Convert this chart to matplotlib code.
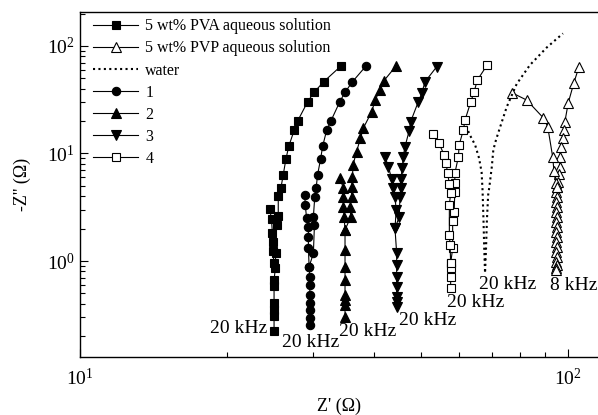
import matplotlib
matplotlib.use('Agg')
import matplotlib.pyplot as plt

plt.rcParams['font.family'] = ['Liberation Serif', 'DejaVu Serif']
plt.rcParams['mathtext.fontset'] = 'stix'

# ---- data: Z' (ohm) and -Z'' (ohm) ----
# 5 wt% PVA aqueous solution (filled squares)
pva_x = [34.3, 31.6, 30.2, 29.3, 27.95, 27.5, 26.8, 26.45, 26.1, 25.83, 25.5, 25.5, 25.3, 25.2,
         25.15, 25.0, 25.0, 25.0, 25.0, 25.0, 25.0]
pva_y = [65.2, 46.5, 37.1, 30.3, 20.1, 16.5, 11.7, 8.95, 6.31, 4.81, 4.02, 2.62, 2.16, 1.19,
         0.855, 0.666, 0.585, 0.404, 0.35, 0.308, 0.225]
pva_loop_x = [24.5, 24.7, 24.8, 24.85, 24.85, 25.0]
pva_loop_y = [3.03, 2.44, 1.83, 1.51, 1.25, 0.952]

# 5 wt% PVP aqueous solution (open up-triangles)
pvp_x = [105.5, 103.0, 100.3, 98.7, 98.3, 97.7, 96.9, 96.4, 96.4, 96.1, 95.6,
         95.0, 94.6, 95.0, 94.6, 95.0, 94.6, 95.0, 94.6, 95.0, 94.6, 95.0, 94.6, 95.0,
         94.6, 95.0, 94.6, 95.0, 94.6, 94.6]
pvp_y = [64.2, 45.6, 29.7, 19.8, 16.5, 13.85, 11.6, 9.34, 7.54, 6.45, 5.47,
         4.91, 4.41, 3.96, 3.56, 3.20, 2.87, 2.58, 2.32, 2.08, 1.87, 1.68, 1.51, 1.36,
         1.22, 1.10, 0.985, 0.918, 0.861, 0.825]
pvp_loop_x = [76.8, 82.4, 89.1, 91.0, 93.2, 93.7, 94.6, 95.0]
pvp_loop_y = [36.8, 31.4, 21.5, 17.8, 9.22, 6.92, 5.28, 4.91]

# water (dotted line)
water_x = [61.9, 63.0, 64.6, 65.8, 66.6, 66.9, 67.2, 67.45, 67.7, 68.0, 68.3, 68.7, 69.1,
           69.9, 70.4, 71.3, 72.6, 75.0, 78.6, 83.7, 90.6, 97.8]
water_y = [18.0, 14.9, 12.0, 9.08, 6.73, 4.58, 2.41, 1.27, 0.773, 1.27, 2.41, 4.11, 4.91,
           7.54, 10.8, 13.4, 17.3, 27.1, 44.3, 66.6, 96.8, 130.7]

# sample 1 (filled circles)
s1_x = [38.6, 36.2, 34.95, 34.1, 32.7, 32.05, 31.45, 31.15, 30.7, 30.5, 30.3, 30.1, 30.25, 30.1,
        29.5, 29.6, 29.6, 29.6, 29.6, 29.6, 29.6, 29.6]
s1_y = [65.2, 46.5, 37.1, 30.3, 20.1, 16.5, 11.7, 8.95, 6.31, 4.81, 3.96, 2.58, 2.16, 1.18,
        0.885, 0.714, 0.598, 0.483, 0.404, 0.35, 0.293, 0.254]
s1_loop_x = [28.9, 28.97, 29.15, 29.4, 29.4, 29.4, 29.5]
s1_loop_y = [4.11, 3.32, 2.50, 2.08, 1.68, 1.31, 0.885]

# sample 2 (filled up-triangles)
s2_x = [44.5, 41.95, 41.2, 40.3, 39.65, 38.1, 37.6, 36.9, 36.3, 36.2, 36.05, 36.05, 35.8, 35.9,
        34.95, 34.95, 34.95, 34.95, 34.95, 34.95, 34.95, 34.95]
s2_y = [65.4, 47.2, 38.9, 31.4, 24.5, 17.2, 13.85, 10.4, 7.82, 6.09, 4.91, 3.96, 3.2, 2.58,
        1.94, 1.27, 0.885, 0.666, 0.483, 0.434, 0.39, 0.303]
s2_loop_x = [34.1, 34.7, 34.6, 34.7, 34.8, 34.95]
s2_loop_y = [5.88, 4.75, 3.96, 3.2, 2.58, 1.94]

# sample 3 (filled down-triangles)
s3_x = [53.9, 51.0, 50.2, 49.4, 47.65, 47.3, 46.4, 46.0, 45.8, 45.5, 45.5, 45.3, 45.15, 44.25,
        44.6, 44.6, 44.6, 44.6, 44.6, 44.6, 44.6]
s3_y = [64.2, 46.5, 36.3, 30.3, 19.8, 16.2, 11.6, 9.34, 7.28, 5.79, 4.75, 3.96, 2.58, 2.01,
        1.18, 0.918, 0.714, 0.577, 0.466, 0.418, 0.376]
s3_loop_x = [42.2, 42.9, 43.55, 43.9, 44.25, 44.5, 44.25]
s3_loop_y = [9.34, 7.54, 5.79, 4.75, 3.96, 2.98, 2.01]

# sample 4 (open squares)
s4_x = [68.4, 65.3, 64.3, 63.3, 61.6, 61.1, 59.9, 59.7, 58.7, 58.7, 58.7, 58.5, 58.1, 58.1,
        57.55, 57.55, 57.55, 57.55]
s4_y = [66.6, 48.3, 37.6, 30.3, 20.5, 16.5, 12.0, 9.34, 6.54, 5.28, 4.41, 2.84, 2.37, 1.31,
        0.952, 0.861, 0.714, 0.557]
s4_loop_x = [52.9, 54.5, 55.8, 56.3, 56.75, 57.2, 57.55, 57.2, 57.2, 57.4, 57.55]
s4_loop_y = [15.2, 12.4, 9.68, 8.11, 6.54, 5.17, 4.26, 3.32, 1.75, 1.41, 0.952]

legend_labels = ['5 wt% PVA aqueous solution', '5 wt% PVP aqueous solution', 'water',
                 '1', '2', '3', '4']

# frequency annotations
freq_x = [24.2, 26.0, 33.9, 45.1, 56.6, 65.9, 92.0]
freq_y = [0.238, 0.173, 0.219, 0.280, 0.411, 0.611, 0.592]
freq_text = ['20 kHz', '20 kHz', '20 kHz', '20 kHz', '20 kHz', '20 kHz', '8 kHz']
freq_ha = ['right', 'left', 'left', 'left', 'left', 'left', 'left']

# ---- figure ----
fig = plt.figure(figsize=(5.98, 4.15), dpi=100)
ax = fig.add_axes([80 / 598, 1 - 357 / 415, 1 - 80 / 598, (357 - 12) / 415])
ax.set_xscale('log')
ax.set_yscale('log')

lw = 0.8
common = dict(color='black', linewidth=lw, markeredgecolor='black', markeredgewidth=0.8)

styles = [
    (pva_x, pva_y, pva_loop_x, pva_loop_y, dict(marker='s', ms=5.5, mfc='black'), legend_labels[0]),
    (pvp_x, pvp_y, pvp_loop_x, pvp_loop_y, dict(marker='^', ms=7, mfc='white'), legend_labels[1]),
]
h = {}
for xs, ys, lx, ly, st, lab in styles:
    h[lab], = ax.plot(xs, ys, label=lab, **common, **st)
    ax.plot(lx, ly, **common, **st)

h['water'], = ax.plot(water_x, water_y, color='black', linestyle=(0, (1, 1.6)), linewidth=1.5,
                      label='water')

styles2 = [
    (s1_x, s1_y, s1_loop_x, s1_loop_y, dict(marker='o', ms=6, mfc='black'), legend_labels[3]),
    (s2_x, s2_y, s2_loop_x, s2_loop_y, dict(marker='^', ms=7, mfc='black'), legend_labels[4]),
    (s3_x, s3_y, s3_loop_x, s3_loop_y, dict(marker='v', ms=7, mfc='black'), legend_labels[5]),
    (s4_x, s4_y, s4_loop_x, s4_loop_y, dict(marker='s', ms=6, mfc='white'), legend_labels[6]),
]
for xs, ys, lx, ly, st, lab in styles2:
    h[lab], = ax.plot(xs, ys, label=lab, **common, **st)
    ax.plot(lx, ly, **common, **st)

for x, y, t, ha in zip(freq_x, freq_y, freq_text, freq_ha):
    ax.text(x, y, t, ha=ha, va='center', fontsize=14)

ax.set_xlim(10, 115.4)
ax.set_ylim(0.128, 207)

ax.spines['right'].set_visible(False)
for s in ['left', 'bottom', 'top']:
    ax.spines[s].set_linewidth(1.0)

ax.tick_params(which='major', direction='in', length=6, width=0.8, labelsize=14,
               top=False, right=False)
ax.tick_params(which='minor', direction='in', length=3.5, width=0.8, top=False, right=False)
ax.tick_params(axis='x', pad=8)

ax.set_xlabel("Z' (Ω)", fontsize=13, labelpad=6)
ax.set_ylabel("-Z'' (Ω)", fontsize=13, labelpad=12)

leg = ax.legend([h[l] for l in legend_labels], legend_labels, loc='upper left',
                bbox_to_anchor=(0.0135, 1.0),
                frameon=False, fontsize=11.5, handlelength=2.8, labelspacing=0.38,
                borderaxespad=0.2, handletextpad=0.45, borderpad=0.2)

fig.savefig('out.png', dpi=100)
